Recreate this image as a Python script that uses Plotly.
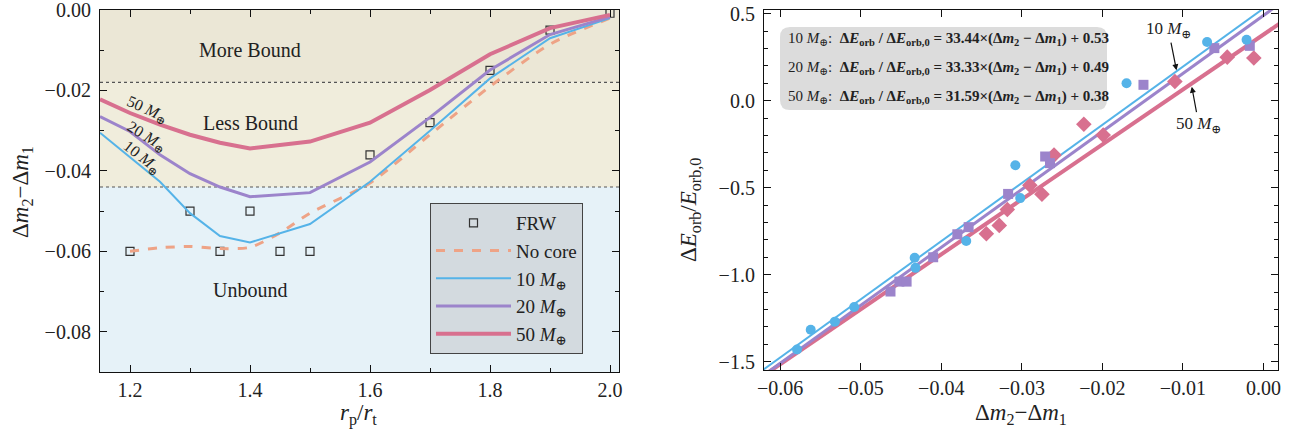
import plotly.graph_objects as go

# ---------------- data: left panel ----------------
r_lines = [1.15, 1.2, 1.25, 1.3, 1.35, 1.4, 1.5, 1.6, 1.7, 1.8, 1.9, 2.0]
dm_10 = [-0.0305, -0.0366, -0.0427, -0.0505, -0.0562, -0.0578, -0.0532, -0.0427, -0.0300, -0.0170, -0.0070, -0.0020]
dm_20 = [-0.0265, -0.0302, -0.0360, -0.0407, -0.0440, -0.0464, -0.0454, -0.0378, -0.0267, -0.0149, -0.0061, -0.0017]
dm_50 = [-0.0222, -0.0256, -0.0285, -0.0310, -0.0330, -0.0344, -0.0327, -0.0280, -0.0199, -0.0110, -0.0045, -0.0012]

r_nocore = [1.2, 1.25, 1.3, 1.35, 1.4, 1.45, 1.5, 1.6, 1.7, 1.8, 1.9, 2.0]
dm_nocore = [-0.0600, -0.0591, -0.0588, -0.0593, -0.0590, -0.0554, -0.0505, -0.0430, -0.0310, -0.0190, -0.0085, -0.0020]

r_frw = [1.2, 1.3, 1.35, 1.4, 1.45, 1.5, 1.6, 1.7, 1.8, 1.9, 2.0]
dm_frw = [-0.060, -0.050, -0.060, -0.050, -0.060, -0.060, -0.036, -0.028, -0.015, -0.005, -0.0008]

bound_levels = [-0.018, -0.044]   # dotted separators

# ---------------- data: right panel ----------------
x10 = [-0.0579, -0.0562, -0.0532, -0.0508, -0.0433, -0.0432, -0.0369, -0.0308, -0.0302, -0.0170, -0.0070, -0.0021]
y10 = [-1.430, -1.317, -1.270, -1.186, -0.903, -0.961, -0.807, -0.371, -0.560, 0.100, 0.337, 0.350]
x20 = [-0.0463, -0.0452, -0.0443, -0.0410, -0.0380, -0.0366, -0.0317, -0.0271, -0.0265, -0.0149, -0.0061, -0.0017]
y20 = [-1.097, -1.040, -1.040, -0.900, -0.768, -0.727, -0.536, -0.321, -0.359, 0.091, 0.302, 0.315]
x50 = [-0.0344, -0.0328, -0.0318, -0.0290, -0.0275, -0.0260, -0.0223, -0.0199, -0.0110, -0.0045, -0.0012]
y50 = [-0.765, -0.717, -0.626, -0.486, -0.538, -0.313, -0.136, -0.198, 0.110, 0.250, 0.245]

fit_masses = ["10", "20", "50"]
fit_slopes = [33.44, 33.33, 31.59]
fit_intercepts = [0.53, 0.49, 0.38]
fit_x = [-0.0625, 0.0025]

# ---------------- style ----------------
C10 = "#55B3E8"
C20 = "#9C84CB"
C50 = "#D8708F"
CNC = "#EEA386"
SERIF = "Liberation Serif, Times New Roman, DejaVu Serif, serif"
W, H = 1294, 440

def px_x(p):
    return p / W

def px_y(p):
    return 1 - p / H

fig = go.Figure()

# left panel traces
fig.add_trace(go.Scatter(x=r_frw, y=dm_frw, mode="markers", name="FRW",
                         marker=dict(symbol="square-open", size=8, color="#333333", line=dict(width=1.2)),
                         xaxis="x", yaxis="y"))
fig.add_trace(go.Scatter(x=r_nocore, y=dm_nocore, mode="lines", name="No core",
                         line=dict(color=CNC, width=3, dash="dash", shape="spline", smoothing=0.7),
                         xaxis="x", yaxis="y"))
fig.add_trace(go.Scatter(x=r_lines, y=dm_10, mode="lines", name="10 <i>M</i><sub>⊕</sub>",
                         line=dict(color=C10, width=2), xaxis="x", yaxis="y"))
fig.add_trace(go.Scatter(x=r_lines, y=dm_20, mode="lines", name="20 <i>M</i><sub>⊕</sub>",
                         line=dict(color=C20, width=3), xaxis="x", yaxis="y"))
fig.add_trace(go.Scatter(x=r_lines, y=dm_50, mode="lines", name="50 <i>M</i><sub>⊕</sub>",
                         line=dict(color=C50, width=4), xaxis="x", yaxis="y"))

# right panel: fit lines
fit_colors = [C10, C20, C50]
fit_widths = [2, 3, 4]
for i in [2, 1, 0]:
    fy = [fit_slopes[i] * x + fit_intercepts[i] for x in fit_x]
    fig.add_trace(go.Scatter(x=fit_x, y=fy, mode="lines", showlegend=False,
                             line=dict(color=fit_colors[i], width=fit_widths[i]),
                             xaxis="x2", yaxis="y2"))
# right panel: points
fig.add_trace(go.Scatter(x=x50, y=y50, mode="markers", showlegend=False,
                         marker=dict(symbol="diamond", size=12, color=C50),
                         xaxis="x2", yaxis="y2"))
fig.add_trace(go.Scatter(x=x20, y=y20, mode="markers", showlegend=False,
                         marker=dict(symbol="square", size=10, color=C20),
                         xaxis="x2", yaxis="y2"))
fig.add_trace(go.Scatter(x=x10, y=y10, mode="markers", showlegend=False,
                         marker=dict(symbol="circle", size=10, color=C10),
                         xaxis="x2", yaxis="y2"))

axis_common = dict(showgrid=False, zeroline=False, showline=True, linecolor="#111111", linewidth=1.2,
                   mirror="allticks", ticks="inside", ticklen=7, tickwidth=1, tickcolor="#111111",
                   automargin=False, ticklabeloverflow="allow",
                   tickfont=dict(family=SERIF, size=20, color="#222222"))

fig.update_layout(
    width=W, height=H, margin=dict(l=0, r=0, t=0, b=0, autoexpand=False),
    paper_bgcolor="white", plot_bgcolor="white",
    font=dict(family=SERIF, color="#222222"),
    xaxis=dict(domain=[px_x(100), px_x(619)], range=[1.15, 2.015], tick0=1.2, dtick=0.2,
               tickformat=".1f", anchor="y", ticklabelstandoff=0,
               minor=dict(ticks="inside", dtick=0.1, tick0=1.2, ticklen=4, tickcolor="#111111"),
               **axis_common),
    yaxis=dict(domain=[px_y(372), px_y(10)], range=[-0.09, 0.00001], tick0=0, dtick=0.02,
               tickformat=".2f", anchor="x", ticklabelstandoff=4,
               minor=dict(ticks="inside", dtick=0.01, ticklen=4, tickcolor="#111111"),
               **axis_common),
    xaxis2=dict(domain=[px_x(764), px_x(1278)], range=[-0.0620, 0.0018], tick0=0, dtick=0.01,
                tickformat=".2f", anchor="y2", ticklabelstandoff=0, **axis_common),
    yaxis2=dict(domain=[px_y(370), px_y(10)], range=[-1.548, 0.521], tick0=0, dtick=0.5,
                tickformat=".1f", anchor="x2", ticklabelstandoff=4,
                minor=dict(ticks="inside", dtick=0.1, ticklen=4, tickcolor="#111111"),
                **axis_common),
    legend=dict(x=px_x(430), y=px_y(203), xanchor="left", yanchor="top",
                bgcolor="#D3DADF", bordercolor="#444444", borderwidth=1,
                font=dict(family=SERIF, size=19, color="#222222"),
                itemwidth=75, tracegroupgap=0),
)

# background regions in left panel
shapes = [
    dict(type="rect", xref="x domain", yref="y", x0=0, x1=1, y0=bound_levels[0], y1=0.0,
         fillcolor="#EBE7D6", line=dict(width=0), layer="below"),
    dict(type="rect", xref="x domain", yref="y", x0=0, x1=1, y0=bound_levels[1], y1=bound_levels[0],
         fillcolor="#F0EDDC", line=dict(width=0), layer="below"),
    dict(type="rect", xref="x domain", yref="y", x0=0, x1=1, y0=-0.09, y1=bound_levels[1],
         fillcolor="#E6F2F8", line=dict(width=0), layer="below"),
]
for lv in bound_levels:
    shapes.append(dict(type="line", xref="x domain", yref="y", x0=0, x1=1, y0=lv, y1=lv,
                       line=dict(color="#555555", width=1.2, dash="dot"), layer="below"))

# rounded equation box (paper coords)
bx0, bx1, by0, by1 = px_x(780), px_x(1107), px_y(110), px_y(27)
rx, ry = 10 / W, 10 / H
path = (f"M {bx0+rx},{by1} L {bx1-rx},{by1} Q {bx1},{by1} {bx1},{by1-ry} "
        f"L {bx1},{by0+ry} Q {bx1},{by0} {bx1-rx},{by0} L {bx0+rx},{by0} "
        f"Q {bx0},{by0} {bx0},{by0+ry} L {bx0},{by1-ry} Q {bx0},{by1} {bx0+rx},{by1} Z")
shapes.append(dict(type="path", xref="paper", yref="paper", path=path,
                   fillcolor="#DCDCDC", line=dict(width=0), layer="below"))
fig.update_layout(shapes=shapes)

ann = []

def paper_text(txt, xp, yp, size, angle=0, xanchor="center"):
    return dict(text=txt, x=px_x(xp), y=px_y(yp), xref="paper", yref="paper",
                xanchor=xanchor, yanchor="middle", textangle=angle, showarrow=False,
                font=dict(family=SERIF, size=size, color="#222222"))

# axis titles
ann.append(paper_text("Δ<i>m</i><sub>2</sub>−Δ<i>m</i><sub>1</sub>", 22, 192, 23, -90))
ann.append(paper_text("<i>r</i><sub>p</sub>/<i>r</i><sub>t</sub>", 358, 414, 23))
ann.append(paper_text("Δ<i>E</i><sub>orb</sub>/<i>E</i><sub>orb,0</sub>", 690, 210, 23, -90))
ann.append(paper_text("Δ<i>m</i><sub>2</sub>−Δ<i>m</i><sub>1</sub>", 1021, 414, 23))

# region labels
for txt, yv in [("More Bound", -0.0100), ("Less Bound", -0.0280), ("Unbound", -0.0697)]:
    ann.append(dict(text=txt, x=1.4, y=yv, xref="x", yref="y", showarrow=False,
                    xanchor="center", yanchor="middle",
                    font=dict(family=SERIF, size=20, color="#222222")))

# rotated curve labels
for txt, xp, yp, ang in [("50 <i>M</i><sub>⊕</sub>", 147, 109, 24),
                         ("20 <i>M</i><sub>⊕</sub>", 146, 137, 31),
                         ("10 <i>M</i><sub>⊕</sub>", 142, 157, 38)]:
    ann.append(paper_text(txt, xp, yp, 16, ang))

# equation lines
for i, yp in enumerate([39, 68, 97]):
    eq = (f"{fit_masses[i]} <i>M</i><sub>⊕</sub>:  "
          f"<b>Δ<i>E</i><sub>orb</sub> / Δ<i>E</i><sub>orb,0</sub> = {fit_slopes[i]:.2f}×(Δ<i>m</i><sub>2</sub> − "
          f"Δ<i>m</i><sub>1</sub>) + {fit_intercepts[i]:.2f}</b>")
    ann.append(paper_text(eq, 786, yp, 15, 0, "left"))

# arrows in right panel
ann.append(dict(text="10 <i>M</i><sub>⊕</sub>", x=-0.0108, y=0.175, xref="x2", yref="y2",
                ax=-8, ay=-40, showarrow=True, arrowhead=2, arrowsize=1, arrowwidth=1.2,
                arrowcolor="#111111", font=dict(family=SERIF, size=17, color="#222222")))
ann.append(dict(text="50 <i>M</i><sub>⊕</sub>", x=-0.0089, y=0.080, xref="x2", yref="y2",
                ax=7, ay=38, showarrow=True, arrowhead=2, arrowsize=1, arrowwidth=1.2,
                arrowcolor="#111111", font=dict(family=SERIF, size=17, color="#222222")))

fig.update_layout(annotations=ann)
fig.write_html("out.html")
